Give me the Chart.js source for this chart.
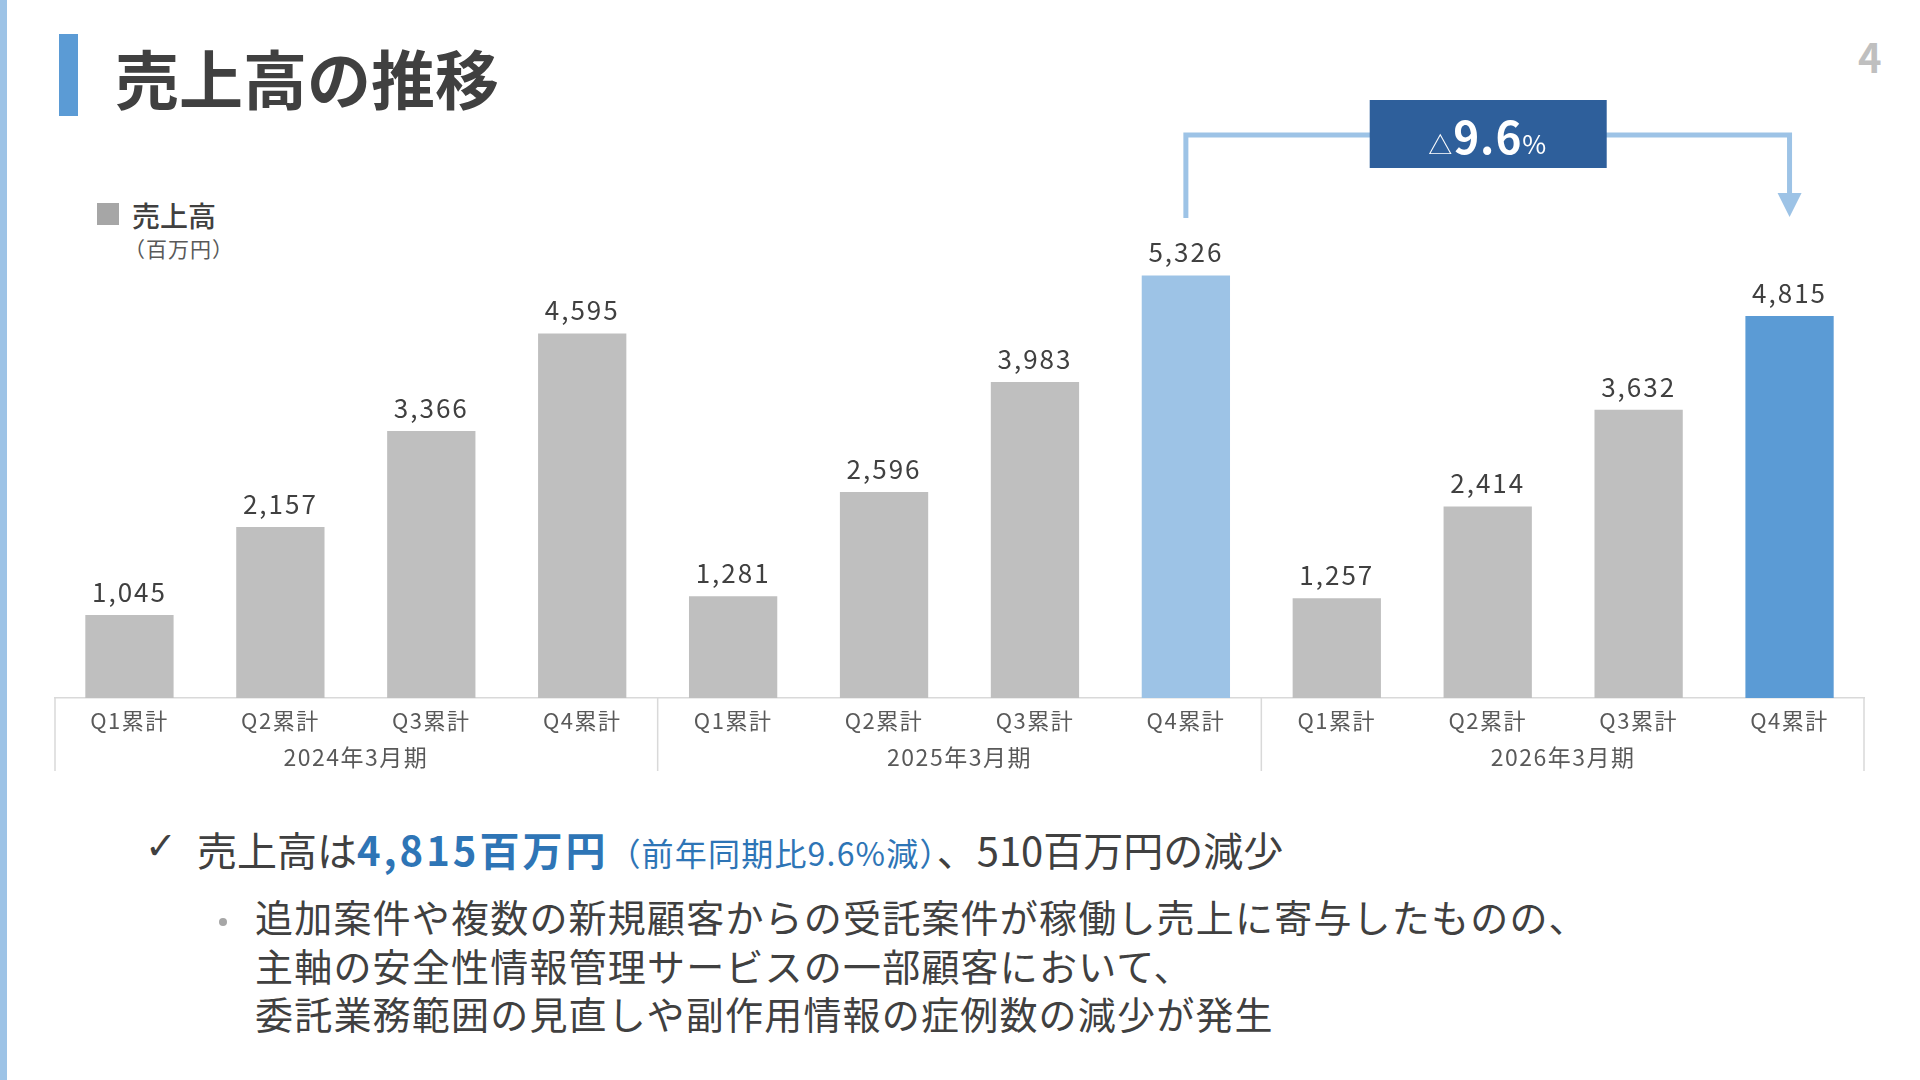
<!DOCTYPE html>
<html lang="ja">
<head>
<meta charset="utf-8">
<title>売上高の推移</title>
<script src="https://cdn.jsdelivr.net/npm/chart.js@4.4.0/dist/chart.umd.min.js"></script>
<style>
    html, body {
        margin: 0;
        padding: 0;
        background: #fff;
    }
    body {
        width: 1920px;
        height: 1080px;
        position: relative;
        overflow: hidden;
        font-family: "Noto Sans CJK JP", "Noto Sans", sans-serif;
        color: #404040;
    }
    .strip { position: absolute; left: 0; top: 0; width: 7px; height: 1080px; background: #9DC3E6; }
    .accent { position: absolute; left: 59px; top: 34px; width: 19px; height: 82px; background: #5B9BD5; }
    .title { position: absolute; left: 115px; top: 42px; font-size: 64px; line-height: 68px; font-weight: 700; color: #404040; }
    .page { position: absolute; left: 1858px; top: 34px; font-size: 40px; line-height: 44px; font-weight: 700; color: #BFBFBF; }
    .legend-sq { position: absolute; left: 97px; top: 203px; width: 22px; height: 22px; background: #A6A6A6; }
    .legend { position: absolute; left: 132px; top: 200px; font-size: 28px; line-height: 30px; font-weight: 500; }
    .unit { position: absolute; left: 124px; top: 236px; font-size: 21px; line-height: 24px; color: #595959; letter-spacing: 1px; }
    .chartBox { position: absolute; left: 54px; top: 80px; width: 1811px; height: 700px; }
    .check { position: absolute; left: 145px; top: 826px; font-size: 38px; line-height: 40px; font-family: "DejaVu Sans", sans-serif; }
    .point { position: absolute; left: 197px; top: 827px; font-size: 40px; line-height: 44px; white-space: nowrap; }
    .point .hl { color: #2E75B6; font-weight: 700; letter-spacing: 3px; }
    .point .sub { color: #2E75B6; font-size: 32px; letter-spacing: 1.2px; margin-left: 0; }
    .dot { position: absolute; left: 219px; top: 918px; width: 8px; height: 8px; border-radius: 50%; background: #A6A6A6; }
    .detail { position: absolute; left: 255px; top: 892px; font-size: 38px; line-height: 48.5px; letter-spacing: 1.2px; white-space: nowrap; }
</style>
</head>
<body>
<div class="strip"></div>
<div class="accent"></div>
<div class="title">売上高の推移</div>
<div class="page">4</div>

<div class="legend-sq"></div>
<div class="legend">売上高</div>
<div class="unit">（百万円）</div>

<div class="chartBox"><canvas id="sales-chart"></canvas></div>

<div class="check">✓</div>
<div class="point">売上高は<span class="hl">4,815百万円</span><span class="sub">（前年同期比9.6%減）</span>、510百万円の減少</div>
<div class="dot"></div>
<div class="detail">追加案件や複数の新規顧客からの受託案件が稼働し売上に寄与したものの、<br>主軸の安全性情報管理サービスの一部顧客において、<br>委託業務範囲の見直しや副作用情報の症例数の減少が発生</div>

<script>
    // quarterly cumulative sales (百万円)
    var quarters = ["Q1累計", "Q2累計", "Q3累計", "Q4累計"];
    var periods = ["2024年3月期", "2025年3月期", "2026年3月期"];
    var sales = [1045, 2157, 3366, 4595, 1281, 2596, 3983, 5326, 1257, 2414, 3632, 4815];

    var labels = [];
    periods.forEach(function () {
        quarters.forEach(function (q) { labels.push(q); });
    });

    var FONT = '"Noto Sans CJK JP", "Noto Sans", sans-serif';
    var prevIndex = 7;   // 2025年3月期 Q4
    var lastIndex = 11;  // 2026年3月期 Q4

    function barColor(ctx) {
        if (ctx.dataIndex === lastIndex) return "#5B9BD5";
        if (ctx.dataIndex === prevIndex) return "#9DC3E6";
        return "#BFBFBF";
    }

    // value labels, period labels with separators, and the yoy bracket
    var overlay = {
        id: "overlay",
        beforeDraw: function (chart) {
            // a little wider spacing for the tick labels, like the slide font
            chart.ctx.letterSpacing = "1.5px";
        },
        afterDatasetsDraw: function (chart) {
            var ctx = chart.ctx;
            var area = chart.chartArea;
            var x = chart.scales.x;
            var meta = chart.getDatasetMeta(0);
            ctx.save();

            ctx.letterSpacing = "2px";
            ctx.font = "26px " + FONT;
            ctx.fillStyle = "#404040";
            ctx.textAlign = "center";
            ctx.textBaseline = "middle";
            meta.data.forEach(function (bar, i) {
                ctx.fillText(sales[i].toLocaleString("en-US"), bar.x, bar.y - 23);
            });

            var edges = [];
            for (var g = 0; g <= periods.length; g++) {
                if (g === 0) edges.push(x.left);
                else if (g === periods.length) edges.push(x.right);
                else edges.push((x.getPixelForValue(g * 4 - 1) + x.getPixelForValue(g * 4)) / 2);
            }
            ctx.strokeStyle = "#D9D9D9";
            ctx.lineWidth = 1.5;
            edges.forEach(function (ex, i) {
                var px = i === 0 ? ex + 1 : (i === edges.length - 1 ? ex - 1 : ex);
                ctx.beginPath();
                ctx.moveTo(px, area.bottom);
                ctx.lineTo(px, area.bottom + 73);
                ctx.stroke();
            });
            ctx.letterSpacing = "1.5px";
            ctx.font = "23px " + FONT;
            ctx.fillStyle = "#595959";
            periods.forEach(function (p, i) {
                ctx.fillText(p, (edges[i] + edges[i + 1]) / 2, area.bottom + 59);
            });

            // bracket from last year's Q4 to this year's Q4
            var a = meta.data[prevIndex];
            var b = meta.data[lastIndex];
            var lineY = area.top - 87;
            var arrowTop = area.top - 29;
            var tip = area.top - 5;
            ctx.strokeStyle = "#9DC3E6";
            ctx.lineWidth = 5;
            ctx.lineJoin = "miter";
            ctx.beginPath();
            ctx.moveTo(a.x, area.top - 4);
            ctx.lineTo(a.x, lineY);
            ctx.lineTo(b.x, lineY);
            ctx.lineTo(b.x, arrowTop + 2);
            ctx.stroke();
            ctx.fillStyle = "#9DC3E6";
            ctx.beginPath();
            ctx.moveTo(b.x - 12, arrowTop);
            ctx.lineTo(b.x + 12, arrowTop);
            ctx.lineTo(b.x, tip);
            ctx.closePath();
            ctx.fill();

            var cx = (a.x + b.x) / 2;
            ctx.fillStyle = "#2E5F9B";
            ctx.fillRect(cx - 118, lineY - 35, 237, 68);

            var pct = (Math.abs(sales[lastIndex] - sales[prevIndex]) / sales[prevIndex] * 100).toFixed(1);
            var parts = [
                {t: "△", f: "24px " + FONT},
                {t: pct, f: "700 44px " + FONT},
                {t: "%", f: "26px " + FONT}
            ];
            ctx.letterSpacing = "1px";
            var total = 0;
            parts.forEach(function (p) {
                ctx.font = p.f;
                p.w = ctx.measureText(p.t).width;
                total += p.w;
            });
            var tx = cx - total / 2;
            ctx.fillStyle = "#FFFFFF";
            ctx.textAlign = "left";
            ctx.textBaseline = "alphabetic";
            parts.forEach(function (p) {
                ctx.font = p.f;
                ctx.fillText(p.t, tx, lineY + 19);
                tx += p.w;
            });

            ctx.restore();
        }
    };

    new Chart(document.getElementById("sales-chart"), {
        type: "bar",
        data: {
            labels: labels,
            datasets: [{
                label: "売上高",
                data: sales,
                backgroundColor: barColor,
                borderWidth: 0,
                barPercentage: 0.585,
                categoryPercentage: 1.0
            }]
        },
        options: {
            responsive: true,
            maintainAspectRatio: false,
            animation: false,
            layout: {padding: {top: 142, left: 0, right: 0, bottom: 0}},
            plugins: {
                legend: {display: false},
                tooltip: {enabled: false},
                title: {display: false}
            },
            scales: {
                x: {
                    grid: {display: false, drawTicks: false},
                    border: {display: true, color: "#D9D9D9", width: 1.5},
                    ticks: {
                        color: "#595959",
                        font: {family: FONT, size: 22},
                        padding: 9,
                        maxRotation: 0,
                        autoSkip: false
                    },
                    afterFit: function (scale) { scale.height = 82; }
                },
                y: {
                    display: false,
                    min: 0,
                    max: 6000
                }
            }
        },
        plugins: [overlay]
    });
</script>
</body>
</html>
